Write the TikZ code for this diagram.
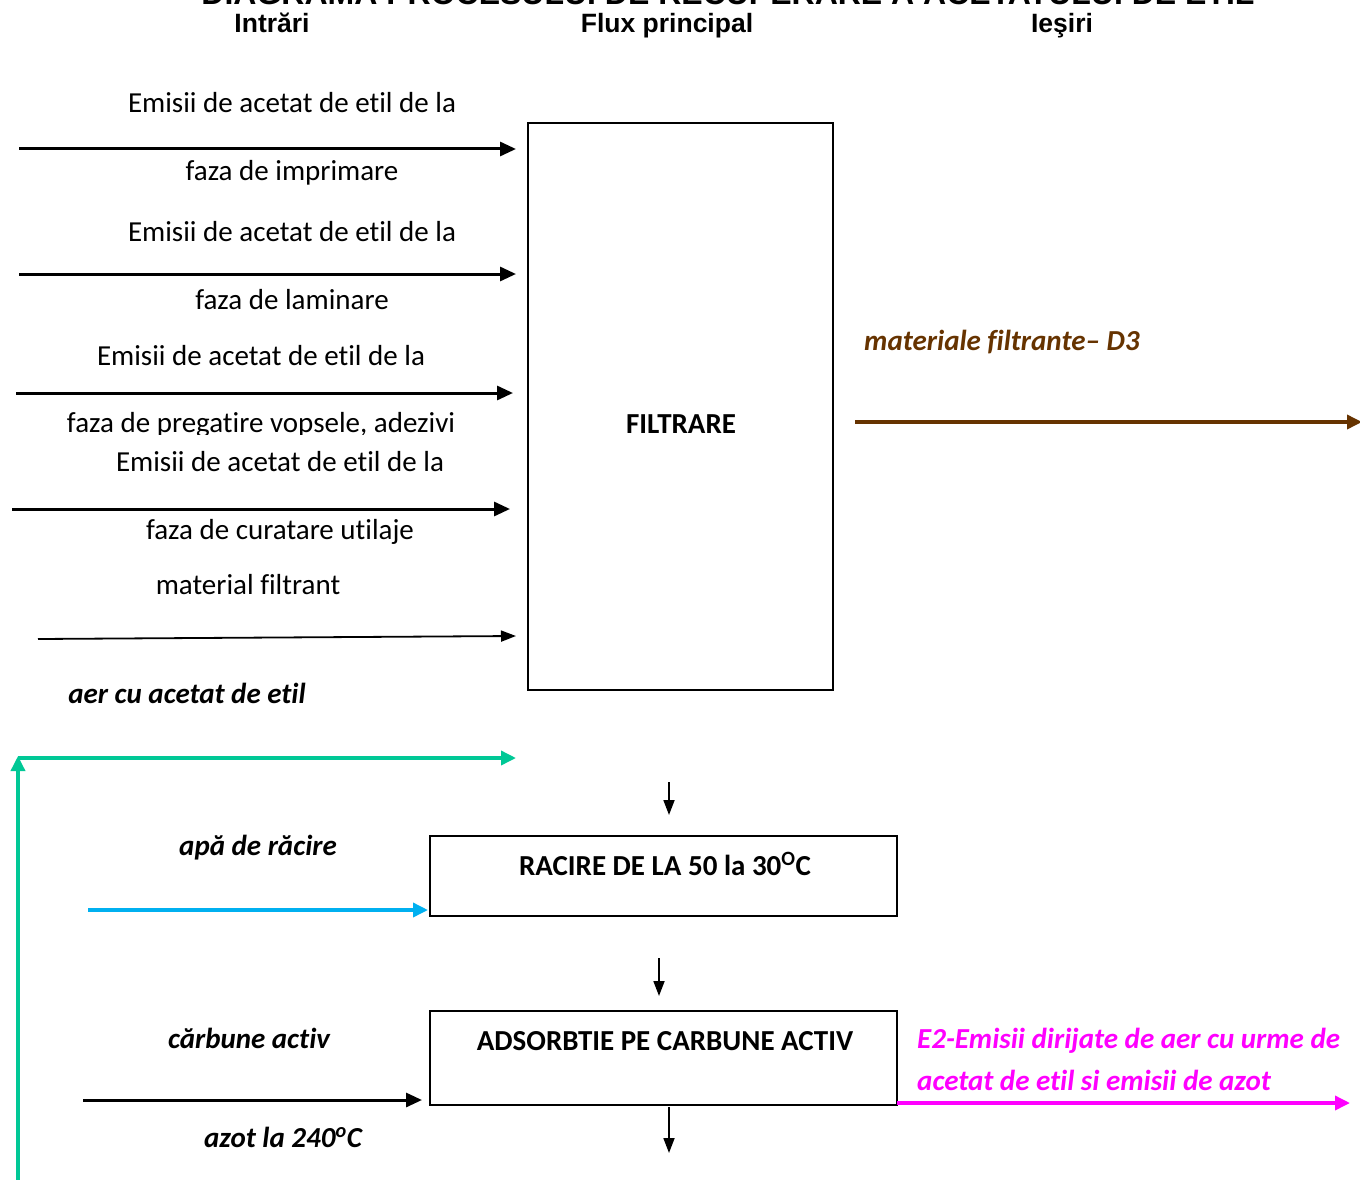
\documentclass[tikz,border=0pt]{standalone}
\usepackage{fontspec}
\setmainfont[Ligatures=NoCommon]{Carlito}
\newfontfamily\arialf{Liberation Sans}
\usetikzlibrary{arrows.meta}
\definecolor{tealg}{HTML}{00C896}
\definecolor{skyb}{HTML}{00B0F0}
\definecolor{brownc}{HTML}{663300}
\definecolor{magc}{HTML}{FF00FF}
\tikzset{
  txt/.style={inner sep=0pt, anchor=base, font=\fontsize{29}{34}\selectfont},
  bitxt/.style={inner sep=0pt, anchor=base, font=\fontsize{29}{34}\selectfont\bfseries\itshape},
  btxt/.style={inner sep=0pt, anchor=base, font=\fontsize{29}{34}\selectfont\bfseries},
  hdr/.style={inner sep=0pt, anchor=base, font=\arialf\bfseries\fontsize{26.5}{31}\selectfont},
  procbox/.style={draw, line width=2pt, inner sep=0pt},
  inarrow/.style={line width=3pt, -{Triangle[length=16pt,width=14pt]}},
  thinarrow/.style={line width=1.8pt, -{Triangle[length=15pt,width=11pt]}},
  colarrow/.style={line width=3.5pt, -{Triangle[length=15pt,width=14pt]}},
}
\begin{document}
\begin{tikzpicture}[x=1pt,y=-1pt]
\useasboundingbox (0,0) rectangle (1360,1180);
\clip (0,0) rectangle (1360,1180);
% title (cut at the top, as in the reference) and headers
\node[inner sep=0pt, anchor=base, font=\arialf\bfseries\fontsize{32}{37}\selectfont] (title) at (728,5) {DIAGRAMA PROCESULUI DE RECUPERARE A ACETATULUI DE ETIL};
\node[hdr] (h1) at (272,33) {Intrări};
\node[hdr] (h2) at (667,33) {Flux principal};
\node[hdr] (h3) at (1062,33) {Ieşiri};
% process boxes
\node[procbox, minimum width=305pt, minimum height=567pt] (filt) at (680.5,406.5) {};
\node[btxt] (filtT) at (681,433) {FILTRARE};
\node[procbox, minimum width=467pt, minimum height=80pt] (rac) at (663.5,876) {};
\node[btxt] (racT) at (665,875) {RACIRE DE LA 50 la 30\textsuperscript{O}C};
\node[procbox, minimum width=467pt, minimum height=94pt] (ads) at (663.5,1058) {};
\node[btxt] (adsT) at (665,1050) {ADSORBTIE PE CARBUNE ACTIV};
% input labels
\node[txt] (e1) at (292,113) {Emisii de acetat de etil de la};
\node[txt] (f1) at (292,180) {faza de imprimare};
\node[txt] (e2) at (292,241) {Emisii de acetat de etil de la};
\node[txt] (f2) at (292,309) {faza de laminare};
\node[txt] (e3) at (261,365) {Emisii de acetat de etil de la};
\begin{scope}
\clip (0,380) rectangle (527,434);
\node[txt] (f3) at (261,432) {faza de pregatire vopsele, adezivi};
\end{scope}
\node[txt] (e4) at (280,471) {Emisii de acetat de etil de la};
\node[txt] (f4) at (280,539) {faza de curatare utilaje};
\node[txt] (mf) at (248,594) {material filtrant};
\node[bitxt] (aer) at (187,703) {aer cu acetat de etil};
\node[bitxt] (apa) at (258,855) {apă de răcire};
\node[bitxt] (carb) at (249,1048) {cărbune activ};
\node[bitxt] (azot) at (283,1147) {azot la 240\textsuperscript{o}C};
% output labels
\node[bitxt, anchor=base west, text=brownc] (mat) at (864,350) {materiale filtrante– D3};
\node[bitxt, anchor=base west, text=magc] (em1) at (917,1048) {E2-Emisii dirijate de aer cu urme de};
\node[bitxt, anchor=base west, text=magc] (em2) at (917,1090) {acetat de etil si emisii de azot};
% arrow end points
\coordinate (a1s) at (19,149);  \coordinate (a1e) at (516,149);
\coordinate (a2s) at (19,274);  \coordinate (a2e) at (516,274);
\coordinate (a3s) at (16,393);  \coordinate (a3e) at (513,393);
\coordinate (a4s) at (12,509);  \coordinate (a4e) at (510,509);
\coordinate (a5s) at (38,639);  \coordinate (a5e) at (516,636);
\coordinate (gB) at (18,1190);  \coordinate (gT) at (18,756);
\coordinate (gL) at (18,758);   \coordinate (gR) at (516,758);
\coordinate (bS) at (88,910);   \coordinate (bE) at (428,910);
\coordinate (nS) at (83,1100);  \coordinate (nE) at (422,1100);
\coordinate (d1s) at (669,782); \coordinate (d1e) at (669,815);
\coordinate (d2s) at (659,958); \coordinate (d2e) at (659,996);
\coordinate (d3s) at (669,1107);\coordinate (d3e) at (669,1153);
\coordinate (brS) at (855,422); \coordinate (brE) at (1362,422);
\coordinate (mS) at (897,1103); \coordinate (mE) at (1350,1103);
% inputs
\draw[inarrow] (a1s) -- (a1e);
\draw[inarrow] (a2s) -- (a2e);
\draw[inarrow] (a3s) -- (a3e);
\draw[inarrow] (a4s) -- (a4e);
\draw[thinarrow] (a5s) -- (a5e);
\draw[colarrow, tealg] (gB) -- (gT);
\draw[colarrow, tealg] (gL) -- (gR);
\draw[colarrow, skyb] (bS) -- (bE);
\draw[inarrow] (nS) -- (nE);
% main flow
\draw[thinarrow] (d1s) -- (d1e);
\draw[thinarrow] (d2s) -- (d2e);
\draw[thinarrow] (d3s) -- (d3e);
% outputs
\draw[colarrow, brownc] (brS) -- (brE);
\draw[colarrow, magc] (mS) -- (mE);
\end{tikzpicture}
\end{document}
